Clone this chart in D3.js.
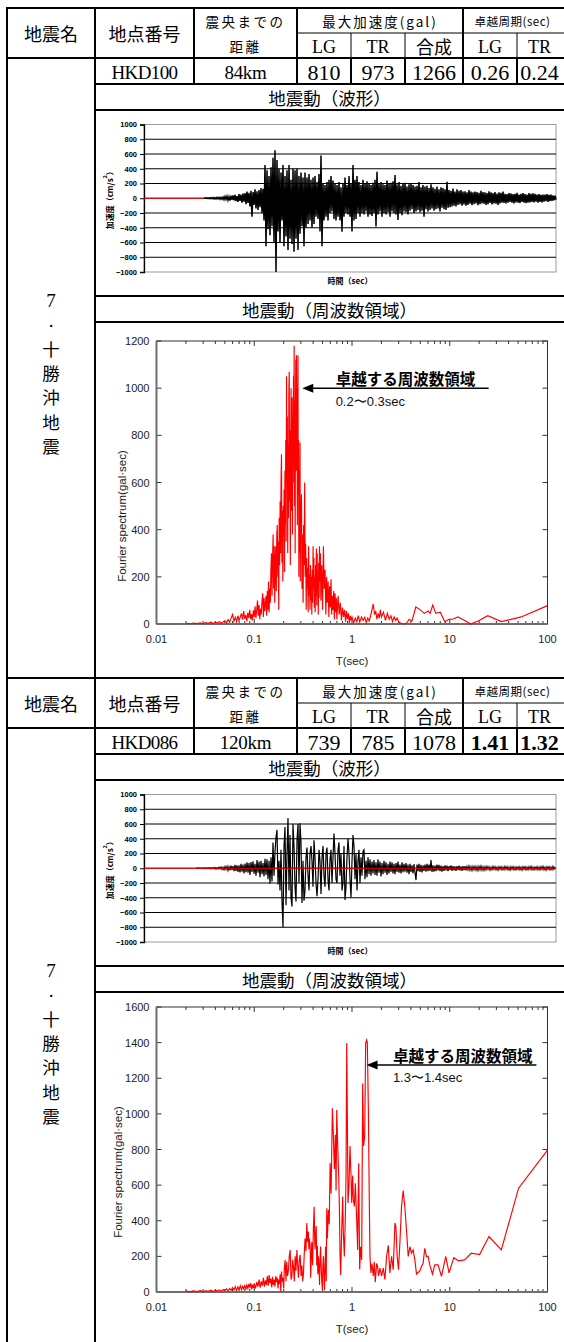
<!DOCTYPE html>
<html>
<head>
<meta charset="utf-8">
<script src="https://cdn.jsdelivr.net/npm/d3@7"></script>
<style>
  html, body { margin: 0; padding: 0; background: #fff; }
  svg { display: block; }
</style>
</head>
<body>
<svg id="chart" width="564" height="1342"></svg>
<script>
// ---------- table content ----------
const headerEvent = "地震名";
const headerStation = "地点番号";
const headerDistance = ["震央までの", "距離"];
const headerPga = "最大加速度(gal)";
const headerPeriod = "卓越周期(sec)";
const componentLabels = ["LG", "TR", "合成", "LG", "TR"];
const eventName = ["7", ".", "十", "勝", "沖", "地", "震"];
const stations = ["HKD100", "HKD086"];
const distances = ["84km", "120km"];
const pgaLG = [810, 739];
const pgaTR = [973, 785];
const pgaComb = [1266, 1078];
const periodLG = ["0.26", "1.41"];
const periodTR = ["0.24", "1.32"];
const periodBold = [false, true];
const waveTitle = "地震動（波形）";
const specTitle = "地震動（周波数領域）";

// ---------- waveform axis ----------
const waveTicks = [-1000, -800, -600, -400, -200, 0, 200, 400, 600, 800, 1000];
const waveSamples = 412;          // samples across the time axis
const waveLead = [60, 52];        // quiet samples before each record starts

// acceleration record, HKD100 (cm/s2)
const wave1 = [
  0,4,-3,6,-5,5,-7,9,-6,8,
  -10,7,-9,12,-8,11,-13,10,-12,15,
  -18,22,-15,28,-25,20,-32,35,-22,40,
  -30,45,-38,30,-50,55,-35,48,-60,62,
  -45,70,-80,90,-65,75,-110,100,-250,85,
  -90,120,-140,95,-160,110,-120,140,-200,130,
  -300,450,-650,380,-420,300,-500,420,-380,550,
  -600,650,-1000,520,-450,400,-600,350,-300,450,
  -650,300,-520,380,-700,450,-550,250,-620,400,
  -726,380,-550,400,-700,300,-480,350,-380,280,
  -650,350,-400,280,-350,330,-300,250,-400,280,
  -350,300,-250,220,-280,330,-450,580,-650,200,
  -300,180,-250,220,-300,250,-200,300,-180,240,
  -280,200,-300,180,-250,220,-300,150,-455,200,
  -250,280,-200,180,-220,300,-250,200,-450,450,
  -300,250,-280,300,-200,220,-250,180,-200,250,
  -220,200,-180,230,-250,200,-220,180,-240,210,
  -200,250,-383,360,-220,200,-180,220,-250,190,
  -200,180,-220,240,-190,200,-250,210,-180,230,
  -200,315,-220,190,-293,220,-200,170,-230,200,
  -180,210,-190,160,-220,190,-170,200,-150,180,
  -200,160,-180,170,-160,220,-190,150,-170,180,
  -250,160,-150,170,-180,140,-160,190,-140,150,
  -170,130,-150,160,-140,120,-180,150,-130,140,
  -150,120,-160,225,-130,110,-120,100,-110,130,
  -100,90,-110,120,-90,100,-80,110,-100,90,
  -85,95,-100,80,-90,110,-75,90,-95,80,
  -80,90,-70,85,-95,75,-80,100,-70,85,
  -75,80,-90,70,-80,95,-65,80,-85,70,
  -70,85,-75,65,-90,80,-70,75,-60,90,
  -65,60,-70,55,-60,70,-50,65,-60,55,
  -70,60,-55,75,-60,50,-65,60,-50,70,
  -60,55,-65,50,-60,70,-55,60,-50,65,
  -55,60,-45,50,-60,55,-50,45,-55,50,
  -45,50,-40,55,-50,45,-40,50,-35,40,
  -30,35,-20
];

// acceleration record, HKD086 (cm/s2)
const wave2 = [
  0,3,-2,4,-3,2,-4,5,-3,4,
  -6,5,-4,7,-8,6,-5,9,-7,10,
  -12,8,-10,14,-9,15,-18,12,-20,22,
  -15,25,-30,20,-28,35,-22,30,-40,45,
  -35,40,-50,38,-55,60,-45,50,-70,65,
  -55,80,-60,70,-90,85,-50,95,-75,60,
  -100,110,-60,90,-120,100,-80,70,-110,130,
  -90,120,-150,100,-210,150,-180,350,-100,220,
  420,520,-220,100,-300,250,-450,-800,300,560,
  -500,200,680,-300,450,-400,-520,600,300,-250,
  -450,380,600,-200,610,350,-470,100,-440,-300,
  150,280,-100,-300,200,300,100,-250,380,150,
  -200,-380,-150,250,100,-350,150,300,-100,-250,
  200,280,-150,-300,120,250,-200,150,470,200,
  -150,-200,250,350,-100,200,-300,-200,300,-430,
  -250,150,400,200,-150,-400,100,450,300,-150,
  200,-300,100,250,-200,150,-100,230,250,-150,
  100,-120,150,-80,120,-100,90,-70,110,-90,
  80,-100,120,-60,90,-110,70,-80,100,-60,
  80,-90,60,-70,90,-50,80,-70,60,-80,
  70,-50,90,-60,50,-70,80,-55,60,-45,
  70,-60,50,-80,60,-50,40,-70,55,-60,
  -160,50,-40,60,-50,45,-55,40,-35,50,
  -45,60,-40,50,-35,110,-50,40,-45,35,
  -40,50,-30,45,-40,35,-45,30,-35,40,
  -30,35,-40,30,-25,40,-35,30,-30,25,
  -35,30,-25,35,-30,25,-35,30,-25,30,
  -30,25,-20,30,-25,20,-30,25,-20,25,
  -25,20,-30,25,-20,30,-25,20,-25,20,
  -20,25,-15,20,-25,15,-20,25,-15,20,
  -20,15,-25,20,-15,20,-20,15,-20,25,
  -15,20,-20,15,-25,20,-15,20,-20,15,
  -20,15,-15,20,-20,15,-25,20,-15,20,
  -20,15,-20,20,-15,25,-20,15,-20,15,
  -15,20,-20,15,-20,20,-15,25,-20,15,
  -25,20,-15,20,-20,15,-20,25,-15,20
];

// ---------- Fourier spectra: [period (sec), amplitude (gal·sec)] ----------
const specTicksX = [0.01, 0.1, 1, 10, 100];
const specTickLabelsX = ["0.01", "0.1", "1", "10", "100"];
const spec1TicksY = [0, 200, 400, 600, 800, 1000, 1200];
const spec2TicksY = [0, 200, 400, 600, 800, 1000, 1200, 1400, 1600];

const spec1 = [
  [0.020,3],[0.022,1],[0.024,4],[0.026,2],[0.028,5],[0.030,1],[0.032,6],[0.034,3],[0.036,8],[0.038,2],
  [0.040,7],[0.042,4],[0.044,10],[0.046,3],[0.048,9],[0.050,14],[0.052,5],[0.054,18],[0.056,8],[0.058,25],
  [0.060,40],[0.062,12],[0.064,28],[0.066,10],[0.068,35],[0.070,15],[0.072,30],[0.074,45],[0.076,18],[0.078,55],
  [0.080,22],[0.082,38],[0.084,12],[0.086,48],[0.088,25],[0.090,60],[0.092,20],[0.094,42],[0.096,15],[0.098,58],
  [0.100,30],[0.102,75],[0.104,25],[0.106,60],[0.108,100],[0.110,35],[0.112,80],[0.114,20],[0.116,65],[0.118,40],
  [0.120,95],[0.122,130],[0.124,30],[0.126,110],[0.128,55],[0.130,85],[0.132,120],[0.134,35],[0.136,140],[0.138,60],
  [0.140,180],[0.142,50],[0.144,150],[0.146,90],[0.148,230],[0.150,300],[0.152,120],[0.154,280],[0.156,380],[0.158,150],
  [0.160,330],[0.162,90],[0.164,260],[0.166,330],[0.168,140],[0.170,380],[0.172,420],[0.174,200],[0.176,350],[0.178,60],
  [0.180,450],[0.182,250],[0.184,520],[0.186,300],[0.188,610],[0.190,720],[0.192,260],[0.194,480],[0.196,180],[0.198,500],
  [0.200,380],[0.202,570],[0.204,220],[0.206,650],[0.208,420],[0.210,780],[0.212,350],[0.214,1050],[0.216,600],[0.218,880],
  [0.220,300],[0.222,760],[0.224,450],[0.226,980],[0.228,1070],[0.230,520],[0.232,820],[0.234,250],[0.236,700],[0.238,1000],
  [0.240,480],[0.242,900],[0.244,960],[0.246,380],[0.248,820],[0.250,600],[0.252,1050],[0.254,700],[0.256,1180],[0.258,500],
  [0.260,940],[0.262,300],[0.264,880],[0.266,1120],[0.268,650],[0.270,1140],[0.272,800],[0.274,1000],[0.276,420],[0.278,900],
  [0.280,1140],[0.282,550],[0.284,780],[0.286,200],[0.288,650],[0.290,300],[0.292,560],[0.294,770],[0.296,180],[0.298,520],
  [0.300,400],[0.304,550],[0.308,150],[0.312,380],[0.316,90],[0.320,420],[0.324,250],[0.328,600],[0.332,200],[0.336,340],
  [0.340,60],[0.344,280],[0.348,150],[0.352,240],[0.356,50],[0.360,330],[0.364,120],[0.368,210],[0.372,60],[0.376,250],
  [0.380,100],[0.384,200],[0.388,40],[0.392,230],[0.396,90],[0.400,330],[0.404,150],[0.408,280],[0.412,70],[0.416,200],
  [0.420,50],[0.424,250],[0.428,120],[0.432,320],[0.436,80],[0.440,300],[0.444,140],[0.448,210],[0.452,40],[0.456,260],
  [0.460,110],[0.465,330],[0.470,180],[0.475,300],[0.480,100],[0.490,250],[0.500,60],[0.510,330],[0.520,150],[0.530,230],
  [0.540,40],[0.550,200],[0.560,90],[0.570,180],[0.580,30],[0.590,160],[0.600,70],[0.610,190],[0.620,40],[0.630,120],
  [0.640,60],[0.650,140],[0.660,20],[0.670,130],[0.680,50],[0.690,110],[0.700,20],[0.720,120],[0.740,40],[0.760,90],
  [0.780,15],[0.800,70],[0.820,30],[0.840,60],[0.860,10],[0.880,55],[0.900,20],[0.920,45],[0.940,5],[0.960,35],
  [0.980,15],[1.00,30],[1.04,5],[1.08,25],[1.12,10],[1.16,35],[1.20,8],[1.25,30],[1.30,15],[1.35,28],
  [1.40,5],[1.45,25],[1.50,12],[1.55,35],[1.60,60],[1.65,85],[1.70,40],[1.75,55],[1.80,20],[1.85,45],
  [1.90,25],[1.95,60],[2.00,30],[2.10,50],[2.20,15],[2.30,45],[2.40,20],[2.50,35],[2.60,10],[2.70,30],
  [2.80,15],[2.90,25],[3.00,8],[3.20,2],[3.40,0],[3.60,3],[3.85,20],[4.10,12],[4.50,72],[5.00,60],
  [5.50,45],[6.00,55],[6.30,45],[6.70,80],[7.20,45],[8.00,50],[8.90,10],[9.80,20],[10.7,20],[12.1,30],
  [13.5,20],[16.4,0],[20.0,15],[24.5,35],[33.7,10],[53.8,30],[100,78]
];

const spec2 = [
  [0.020,5],[0.022,2],[0.024,6],[0.026,3],[0.028,8],[0.030,2],[0.032,7],[0.034,4],[0.036,10],[0.038,3],
  [0.040,9],[0.042,5],[0.044,12],[0.046,4],[0.048,14],[0.050,8],[0.052,18],[0.054,6],[0.056,20],[0.058,10],
  [0.060,25],[0.062,12],[0.064,30],[0.066,8],[0.068,28],[0.070,15],[0.072,35],[0.074,12],[0.076,32],[0.078,18],
  [0.080,40],[0.082,14],[0.084,38],[0.086,20],[0.088,45],[0.090,25],[0.092,50],[0.094,15],[0.096,42],[0.098,22],
  [0.100,48],[0.103,20],[0.106,55],[0.109,30],[0.112,70],[0.115,25],[0.118,60],[0.121,35],[0.124,80],[0.127,30],
  [0.130,65],[0.133,40],[0.136,90],[0.139,35],[0.142,95],[0.145,50],[0.148,75],[0.151,25],[0.154,85],[0.157,40],
  [0.160,70],[0.163,30],[0.166,90],[0.169,55],[0.172,80],[0.175,20],[0.178,70],[0.181,45],[0.184,100],[0.187,0],
  [0.190,115],[0.193,60],[0.196,80],[0.200,20],[0.203,130],[0.207,180],[0.211,60],[0.215,170],[0.219,90],[0.224,125],
  [0.228,200],[0.233,236],[0.238,70],[0.243,90],[0.247,180],[0.252,140],[0.257,60],[0.262,200],[0.267,120],[0.273,236],
  [0.278,150],[0.283,80],[0.289,180],[0.295,208],[0.301,90],[0.307,150],[0.313,60],[0.319,107],[0.325,220],[0.331,300],
  [0.338,230],[0.345,387],[0.351,280],[0.358,340],[0.362,240],[0.366,300],[0.373,260],[0.378,80],[0.383,200],[0.388,280],
  [0.395,150],[0.403,360],[0.410,479],[0.415,300],[0.419,240],[0.425,330],[0.430,370],[0.436,150],[0.442,260],[0.447,100],
  [0.453,200],[0.460,120],[0.466,40],[0.471,180],[0.477,255],[0.484,140],[0.491,60],[0.497,10],[0.503,140],[0.510,200],
  [0.517,90],[0.523,10],[0.530,150],[0.537,254],[0.545,60],[0.552,470],[0.560,300],[0.567,390],[0.573,460],[0.585,380],
  [0.597,723],[0.611,553],[0.630,1032],[0.645,875],[0.660,690],[0.676,883],[0.687,570],[0.698,1022],[0.714,820],[0.731,654],
  [0.743,479],[0.755,200],[0.766,96],[0.785,348],[0.803,536],[0.816,330],[0.835,200],[0.855,422],[0.869,654],[0.883,1398],
  [0.896,990],[0.910,500],[0.931,593],[0.954,820],[0.977,654],[0.993,500],[1.016,654],[1.032,520],[1.057,480],[1.082,610],
  [1.117,404],[1.143,236],[1.170,723],[1.198,126],[1.227,254],[1.256,180],[1.286,1171],[1.316,820],[1.348,875],[1.380,1398],
  [1.413,1415],[1.435,1398],[1.469,1040],[1.504,500],[1.527,200],[1.563,107],[1.600,160],[1.652,90],[1.690,170],[1.730,55],
  [1.786,160],[1.828,143],[1.871,90],[1.930,134],[2.009,90],[2.09,134],[2.17,71],[2.26,200],[2.35,262],[2.44,107],
  [2.54,200],[2.64,125],[2.75,387],[2.81,370],[2.90,200],[2.99,125],[3.09,276],[3.21,480],[3.34,570],[3.47,480],
  [3.61,348],[3.76,200],[3.91,254],[4.06,218],[4.22,236],[4.39,182],[4.57,101],[4.94,118],[5.14,143],[5.34,161],
  [5.55,245],[5.78,200],[6.01,200],[6.25,152],[6.65,101],[7.03,152],[7.60,152],[8.23,88],[9.10,200],[9.84,107],
  [11.0,193],[12.2,175],[14.2,180],[16.6,218],[20.2,210],[25.2,311],[33.7,236],[50.6,583],[100,797]
];

// dominant-period call-outs: arrow tip [period, amplitude], tail period, text start period
const dominantLabel = "卓越する周波数領域";
const dominantRange = ["0.2〜0.3sec", "1.3〜1.4sec"];
const arrowTip = [[0.31, 1000], [1.41, 1275]];
const arrowTailT = [25, 77];
const noteStartT = [0.68, 2.62];

// ---------- layout ----------
const JP = "'Noto Sans CJK JP', 'Noto Sans', sans-serif";
const SERIF = "'Liberation Serif', 'Times New Roman', serif";
const SANS = "'Liberation Sans', Arial, sans-serif";

const svg = d3.select("#chart");
const colX = [7, 95, 194, 297, 351, 405, 463, 517, 566];
const sectionTop = [8, 678];
const rel = { sub: 25, head: 50, data: 76, waveTitle: 102, waveCell: 288, specTitle: 314, end: 669 };
const waveBox = { left: 144, right: 556, top: 116.5, bottom: 264 };
const specBox = [
  { left: 156.5, right: 547.5, top: 333, bottom: 616 },
  { left: 156.5, right: 547.5, top: 329, bottom: 614 }
];
const specYTitle = [{ dx: 35, y: 508 }, { dx: 39, y: 494 }];

function hline(g, y, x1, x2, w) {
  g.append("line").attr("x1", x1).attr("x2", x2).attr("y1", y).attr("y2", y)
    .attr("stroke", "#000").attr("stroke-width", w);
}
function vline(g, x, y1, y2, w) {
  g.append("line").attr("x1", x).attr("x2", x).attr("y1", y1).attr("y2", y2)
    .attr("stroke", "#000").attr("stroke-width", w);
}
function label(g, x, y, s, font, size, opts = {}) {
  return g.append("text").attr("x", x).attr("y", y)
    .attr("text-anchor", opts.anchor || "middle")
    .attr("dominant-baseline", opts.baseline || "central")
    .attr("font-family", font).attr("font-size", size)
    .attr("font-weight", opts.weight || "normal")
    .attr("letter-spacing", opts.spacing || 0)
    .attr("fill", opts.fill || "#000")
    .text(s);
}

function drawSection(k) {
  const T = sectionTop[k];
  const g = svg.append("g");
  const cx = (a, b) => (colX[a] + colX[b]) / 2;

  // grid of the table
  hline(g, T, 6, 564, 2);
  hline(g, T + rel.sub, colX[3], 564, 1);
  hline(g, T + rel.head, 6, 564, 2);
  [rel.data, rel.waveTitle, rel.waveCell, rel.specTitle].forEach(r => hline(g, T + r, colX[1], 564, 2));
  const bottom = Math.min(T + rel.end, 1342);
  vline(g, colX[0], T, bottom, 2);
  vline(g, colX[1], T, bottom, 2);
  [2, 3, 6].forEach(c => vline(g, colX[c], T, T + rel.data, 2));
  [4, 5, 7].forEach(c => {
    vline(g, colX[c], T + rel.sub, T + rel.head, 1);
    vline(g, colX[c], T + rel.head, T + rel.data, 2);
  });

  // header texts
  const hMid = T + rel.head / 2;
  label(g, cx(0, 1), hMid, headerEvent, JP, 18);
  label(g, cx(1, 2), hMid, headerStation, JP, 18);
  label(g, cx(2, 3), T + 13, headerDistance[0], JP, 13.5, { spacing: 2.5 });
  label(g, cx(2, 3), T + 38, headerDistance[1], JP, 13.5, { spacing: 2.5 });
  label(g, cx(3, 6), T + 13, headerPga, JP, 13.5, { spacing: 2 });
  label(g, cx(6, 8) - 2, T + 13, headerPeriod, JP, 11.5, { spacing: 0.5 });
  const subMid = T + (rel.sub + rel.head) / 2;
  [[3, 4], [4, 5], [5, 6], [6, 7], [7, 8]].forEach(([a, b], i) => {
    const s = componentLabels[i];
    const isLatin = /^[A-Z]+$/.test(s);
    label(g, cx(a, b) - (b === 8 ? 2 : 0), subMid + (isLatin ? 1 : 0), s, isLatin ? SERIF : JP, 18);
  });

  // data row
  const dMid = T + (rel.head + rel.data) / 2 + 1;
  label(g, cx(1, 2), dMid, stations[k], SERIF, 19, { spacing: -0.6 });
  label(g, cx(2, 3), dMid, distances[k], SERIF, 19, { spacing: -0.3 });
  label(g, cx(3, 4), dMid, pgaLG[k], SERIF, 22);
  label(g, cx(4, 5), dMid, pgaTR[k], SERIF, 22);
  label(g, cx(5, 6), dMid, pgaComb[k], SERIF, 22);
  const pw = periodBold[k] ? "bold" : "normal";
  label(g, cx(6, 7), dMid, periodLG[k], SERIF, 22, { weight: pw });
  label(g, cx(7, 8) - 2, dMid, periodTR[k], SERIF, 22, { weight: pw });

  // section titles
  label(g, cx(1, 8) - 1, T + (rel.data + rel.waveTitle) / 2, waveTitle, JP, 17.5);
  label(g, cx(1, 8) - 1, T + (rel.waveCell + rel.specTitle) / 2, specTitle, JP, 17.5);

  // event name, stacked vertically
  eventName.forEach((ch, i) => {
    const isLatin = /[0-9.]/.test(ch);
    label(g, cx(0, 1), T + 292 + i * 24.2 - (ch === "." ? 4 : 0), ch, isLatin ? SERIF : JP, isLatin ? 19 : 17.5);
  });

  drawWave(g, k, T);
  drawSpectrum(g, k, T);
}

function drawWave(g, k, T) {
  const data = k === 0 ? wave1 : wave2;
  const lead = waveLead[k];
  const x = d3.scaleLinear().domain([0, waveSamples]).range([waveBox.left, waveBox.right]);
  const y = d3.scaleLinear().domain([-1000, 1000]).range([T + waveBox.bottom, T + waveBox.top]);

  // frame and grid
  g.append("rect").attr("x", waveBox.left).attr("y", T + waveBox.top)
    .attr("width", waveBox.right - waveBox.left).attr("height", waveBox.bottom - waveBox.top)
    .attr("fill", "none").attr("stroke", "#9a9a9a").attr("stroke-width", 1);
  g.append("g").selectAll("line").data(waveTicks.filter(v => v > -1000 && v < 1000)).join("line")
    .attr("x1", waveBox.left).attr("x2", waveBox.right)
    .attr("y1", d => y(d)).attr("y2", d => y(d))
    .attr("stroke", "#000").attr("stroke-width", 1);

  const axis = d3.axisLeft(y).tickValues(waveTicks).tickSize(4).tickPadding(3).tickFormat(d3.format("d"));
  const ag = g.append("g").attr("transform", `translate(${waveBox.left},0)`).call(axis);
  ag.select(".domain").attr("stroke", "#000").attr("stroke-width", 1.3);
  ag.selectAll(".tick line").attr("stroke", "#000");
  ag.selectAll("text").attr("font-family", SANS).attr("font-size", 7.5).attr("font-weight", "bold").attr("fill", "#000");

  // zero reference line and record
  const baseline = g.append("line")
    .attr("x1", x(0)).attr("x2", x(waveSamples)).attr("y1", y(0)).attr("y2", y(0))
    .attr("stroke", "#ff0000").attr("stroke-width", 1.2);
  const line = d3.line().x((d, i) => x(i + lead)).y(d => y(d));
  g.append("path").datum(data).attr("d", line)
    .attr("fill", "none").attr("stroke", "#000").attr("stroke-width", k === 0 ? 1.5 : 1.2)
    .attr("stroke-linejoin", "miter");
  if (k === 1) baseline.raise().attr("stroke-width", 1);

  // axis titles
  const yt = g.append("text")
    .attr("transform", `translate(${waveBox.left - 35},${T + (waveBox.top + waveBox.bottom) / 2}) rotate(-90)`)
    .attr("text-anchor", "middle").attr("dominant-baseline", "central")
    .attr("font-family", JP).attr("font-size", 8).attr("font-weight", "bold");
  yt.append("tspan").text("加速度（cm/s");
  yt.append("tspan").attr("baseline-shift", "super").attr("font-size", 5.5).text("2");
  yt.append("tspan").text("）");
  label(g, 350, T + waveBox.bottom + 8, "時間（sec）", JP, 8, { weight: "bold" });
}

function drawSpectrum(g, k, T) {
  const box = specBox[k];
  const data = k === 0 ? spec1 : spec2;
  const ticksY = k === 0 ? spec1TicksY : spec2TicksY;
  const yMax = ticksY[ticksY.length - 1];
  const x = d3.scaleLog().domain([0.01, 100]).range([box.left, box.right]);
  const y = d3.scaleLinear().domain([0, yMax]).range([T + box.bottom, T + box.top]);
  const top = T + box.top, bot = T + box.bottom;

  // frame
  g.append("rect").attr("x", box.left).attr("y", top)
    .attr("width", box.right - box.left).attr("height", bot - top)
    .attr("fill", "none").attr("stroke", "#333").attr("stroke-width", 1);

  // inward ticks on all four sides
  const minor = x.ticks().filter(v => !specTicksX.includes(v));
  const tk = g.append("g").attr("stroke", "#333").attr("stroke-width", 1);
  specTicksX.forEach(v => {
    tk.append("line").attr("x1", x(v)).attr("x2", x(v)).attr("y1", bot).attr("y2", bot - 5);
    tk.append("line").attr("x1", x(v)).attr("x2", x(v)).attr("y1", top).attr("y2", top + 5);
  });
  minor.forEach(v => {
    tk.append("line").attr("x1", x(v)).attr("x2", x(v)).attr("y1", bot).attr("y2", bot - 3);
    tk.append("line").attr("x1", x(v)).attr("x2", x(v)).attr("y1", top).attr("y2", top + 3);
  });
  ticksY.forEach(v => {
    tk.append("line").attr("x1", box.left).attr("x2", box.left + 5).attr("y1", y(v)).attr("y2", y(v));
    tk.append("line").attr("x1", box.right).attr("x2", box.right - 5).attr("y1", y(v)).attr("y2", y(v));
  });

  // darker left and bottom axes
  g.append("line").attr("x1", box.left).attr("x2", box.left).attr("y1", top).attr("y2", bot)
    .attr("stroke", "#6e6e6e").attr("stroke-width", 2);
  g.append("line").attr("x1", box.left).attr("x2", box.right).attr("y1", bot).attr("y2", bot)
    .attr("stroke", "#6e6e6e").attr("stroke-width", 2);

  // tick labels
  ticksY.forEach(v => label(g, box.left - 7, y(v), v, SANS, 11, { anchor: "end", fill: "#222" }));
  specTicksX.forEach((v, i) => label(g, x(v), bot + 15, specTickLabelsX[i], SANS, 11, { fill: "#222" }));
  label(g, (box.left + box.right) / 2, bot + 37, "T(sec)", SANS, 11.5, { fill: "#222" });
  g.append("text")
    .attr("transform", `translate(${box.left - specYTitle[k].dx},${T + specYTitle[k].y}) rotate(-90)`)
    .attr("text-anchor", "middle").attr("dominant-baseline", "central")
    .attr("font-family", SANS).attr("font-size", 11.5).attr("fill", "#222")
    .text("Fourier spectrum(gal·sec)");

  // spectrum
  const line = d3.line().x(d => x(d[0])).y(d => y(d[1]));
  g.append("path").datum(data).attr("d", line)
    .attr("fill", "none").attr("stroke", "#ff0000").attr("stroke-width", 1.15)
    .attr("stroke-linejoin", "miter");

  // dominant period call-out
  const [tipT, tipV] = arrowTip[k];
  const ay = y(tipV);
  g.append("line").attr("x1", x(tipT) + 9).attr("x2", x(arrowTailT[k])).attr("y1", ay).attr("y2", ay)
    .attr("stroke", "#000").attr("stroke-width", 1.5);
  const tx = x(tipT);
  g.append("path").attr("d", `M${tx},${ay} L${tx + 11},${ay - 4.5} L${tx + 11},${ay + 4.5} Z`).attr("fill", "#000");
  label(g, x(noteStartT[k]), ay - 3, dominantLabel, JP, 15.5, { anchor: "start", baseline: "auto", weight: "bold" });
  label(g, x(noteStartT[k]), ay + 13, dominantRange[k], SANS, 13, { anchor: "start", fill: "#111" });
}

drawSection(0);
drawSection(1);
</script>
</body>
</html>
